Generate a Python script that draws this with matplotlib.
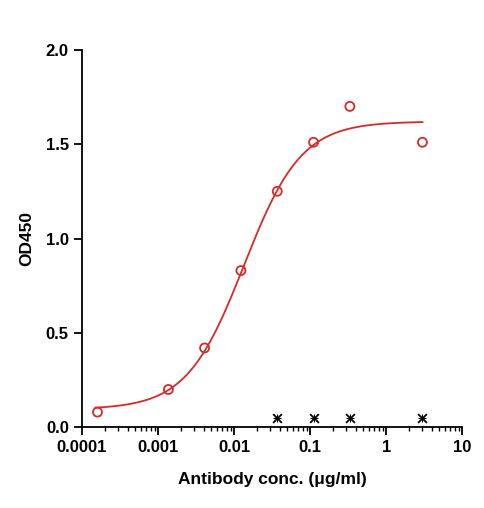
import numpy as np
import matplotlib
matplotlib.use("Agg")
import matplotlib.pyplot as plt

plt.rcParams['font.family'] = ['Liberation Sans', 'DejaVu Sans']

conc = [0.00016, 0.00137, 0.0041, 0.0123, 0.037, 0.111, 0.333, 3.0]
od450 = [0.08, 0.20, 0.42, 0.83, 1.25, 1.51, 1.70, 1.51]
ctrl_conc = [0.037, 0.111, 0.333, 3.0]
ctrl_od = [0.05, 0.05, 0.05, 0.05]

# 4-parameter logistic fit
bottom, top, ec50, hill = 0.095, 1.62, 0.0135, 1.15

fig = plt.figure(figsize=(4.85, 5.08), dpi=100)
ax = fig.add_axes([0.169, 0.159, 0.784, 0.743])

xs = np.logspace(np.log10(0.00015), np.log10(3.0), 300)
ys = bottom + (top - bottom) / (1 + (ec50 / xs) ** hill)
ax.plot(xs, ys, color='#d42a2a', lw=1.3)
ax.scatter(conc, od450, s=42, facecolors='none', edgecolors='#d42a2a', linewidths=1.3, zorder=3)
ax.scatter(ctrl_conc, ctrl_od, s=40, marker='x', color='black', linewidths=1.3, zorder=3)
ax.scatter(ctrl_conc, ctrl_od, s=30, marker='+', color='black', linewidths=0.8, zorder=3)

ax.set_xscale('log')
ax.set_xlim(0.0001, 10)
ax.set_ylim(0, 2.0)
ax.set_xticks([0.0001, 0.001, 0.01, 0.1, 1, 10])
ax.set_xticklabels(['0.0001', '0.001', '0.01', '0.1', '1', '10'])
ax.set_yticks([0, 0.5, 1.0, 1.5, 2.0])
ax.set_yticklabels(['0.0', '0.5', '1.0', '1.5', '2.0'])
for s in ['top', 'right']:
    ax.spines[s].set_visible(False)
for s in ['left', 'bottom']:
    ax.spines[s].set_linewidth(1.3)
ax.tick_params(which='major', length=6, width=1.3, labelsize=12)
ax.tick_params(which='minor', length=3, width=1.0)
for lbl in ax.get_xticklabels() + ax.get_yticklabels():
    lbl.set_fontweight('bold')
ax.set_xlabel('Antibody conc. (μg/ml)', fontsize=12.5, fontweight='bold', labelpad=12)
ax.set_ylabel('OD450', fontsize=12.5, fontweight='bold', labelpad=8)

fig.savefig('out.png', dpi=100)
